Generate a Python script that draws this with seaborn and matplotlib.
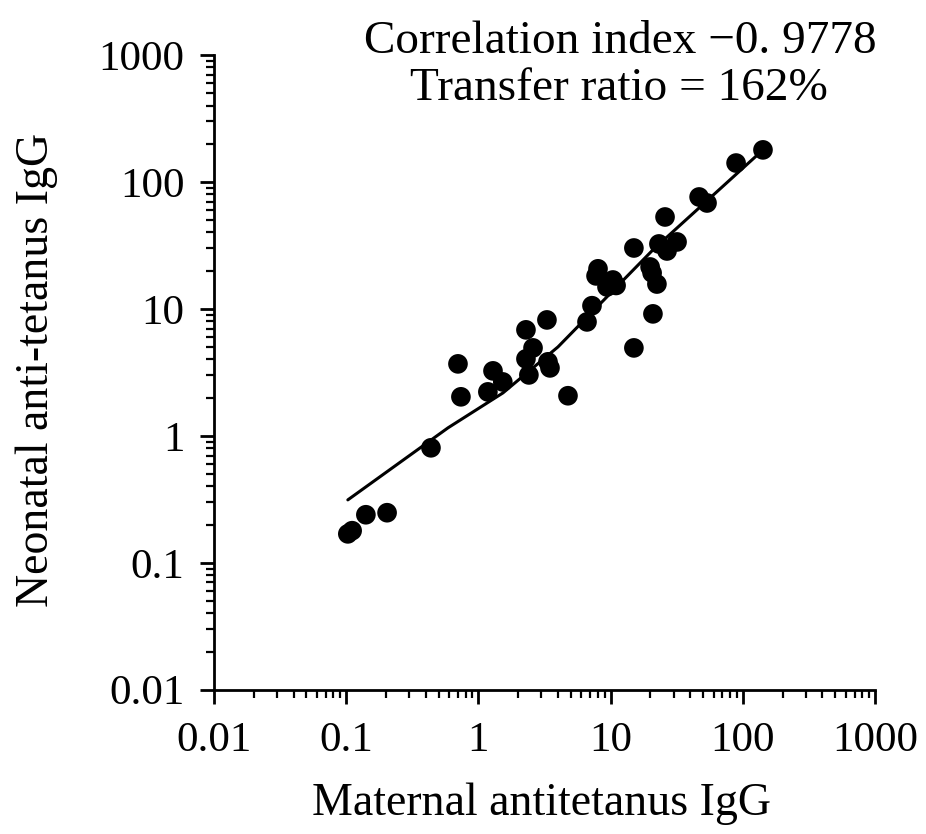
import matplotlib
matplotlib.use("Agg")
import matplotlib.pyplot as plt
import seaborn as sns
import pandas as pd
from matplotlib.ticker import LogLocator, NullFormatter

# Data
maternal = [0.103, 0.111, 0.141, 0.204, 0.438, 0.701, 0.738, 1.18, 1.29, 1.53,
            2.29, 3.30, 2.59, 2.29, 2.41, 3.36, 3.48, 4.76, 6.63, 7.23,
            7.76, 8.03, 9.39, 10.4, 11.0, 15.0, 15.0, 19.9, 20.6, 22.4,
            20.9, 23.2, 25.8, 26.7, 31.8, 46.7, 53.6, 88.9, 142.0]
neonatal = [0.169, 0.179, 0.239, 0.248, 0.805, 3.69, 2.03, 2.22, 3.25, 2.66,
            6.84, 8.19, 4.93, 4.04, 3.02, 3.83, 3.43, 2.07, 7.90, 10.6,
            18.2, 20.7, 14.9, 16.9, 15.3, 30.2, 4.93, 21.4, 19.2, 15.7,
            9.14, 32.5, 53.0, 28.6, 33.7, 76.2, 68.3, 141.0, 179.0]

fit_x = [0.103, 0.589, 1.535, 4.0, 20.9, 142.0]
fit_y = [0.313, 1.156, 2.18, 5.02, 29.2, 179.0]

tick_vals = [0.01, 0.1, 1, 10, 100, 1000]
tick_labels = ["0.01", "0.1", "1", "10", "100", "1000"]

sns.set_theme(style="ticks")
plt.rcParams['font.family'] = ['Liberation Serif', 'DejaVu Serif']

fig = plt.figure(figsize=(9.26, 8.34), dpi=100)
ax = fig.add_axes([0.231, 0.173, 0.714, 0.761])

pts = pd.DataFrame({"m": maternal, "n": neonatal})
fit = pd.DataFrame({"x": fit_x, "y": fit_y})

sns.lineplot(data=fit, x="x", y="y", ax=ax, color="black", lw=2.2, sort=False)
sns.scatterplot(data=pts, x="m", y="n", ax=ax, color="black", s=200,
                edgecolor="none", zorder=3)

ax.set_xscale("log")
ax.set_yscale("log")
ax.set_xlim(0.01, 1000)
ax.set_ylim(0.01, 1000)
ax.set_xticks(tick_vals)
ax.set_xticklabels(tick_labels)
ax.set_yticks(tick_vals)
ax.set_yticklabels(tick_labels)
for axis in (ax.xaxis, ax.yaxis):
    axis.set_minor_locator(LogLocator(base=10, subs=range(2, 10), numticks=20))
    axis.set_minor_formatter(NullFormatter())

for side in ("top", "right"):
    ax.spines[side].set_visible(False)
for side in ("left", "bottom"):
    ax.spines[side].set_linewidth(2)
    ax.spines[side].set_color("black")

ax.tick_params(which="major", direction="out", length=10, width=2,
               labelsize=31, colors="black")
ax.tick_params(axis="y", which="major", pad=11)
ax.tick_params(axis="x", which="major", pad=13)
ax.tick_params(which="minor", direction="out", length=6, width=1.6, colors="black")

ax.set_xlabel("Maternal antitetanus IgG", fontsize=33, color="black")
ax.set_ylabel("Neonatal anti-tetanus IgG", fontsize=33, color="black")
ax.xaxis.label.set_va("center")
ax.xaxis.set_label_coords(0.496, -0.180)
ax.yaxis.label.set_va("center")
ax.yaxis.set_label_coords(-0.268, 0.504)

fig.text(0.670, 0.950, "Correlation index \u22120. 9778", ha="center", va="center",
         fontsize=34, color="black")
fig.text(0.668, 0.894, "Transfer ratio = 162%", ha="center", va="center",
         fontsize=34, color="black")

fig.savefig("out.png", dpi=100, facecolor="white")
